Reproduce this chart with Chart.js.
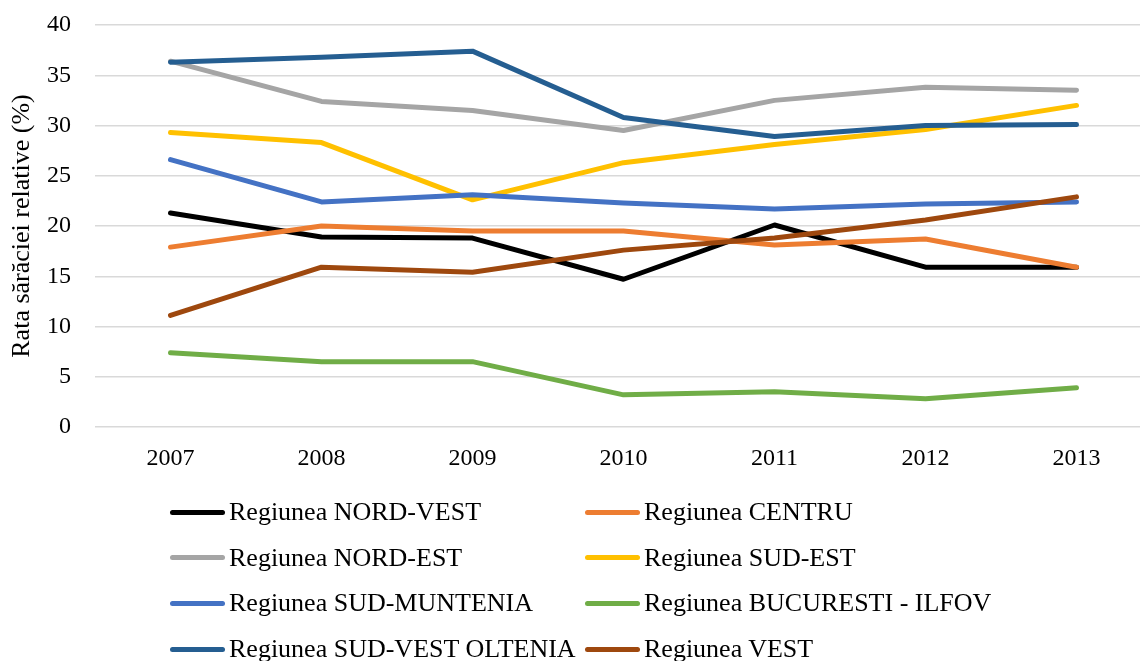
<!DOCTYPE html>
<html>
<head>
<meta charset="utf-8">
<script src="https://cdn.jsdelivr.net/npm/chart.js@4"></script>
<style>
  html, body { margin: 0; padding: 0; background: #fff; }
  body { width: 1140px; height: 661px; overflow: hidden; position: relative; }
  #wrap { position: absolute; left: 0; top: 0; width: 1152px; height: 480px; }
  #legend { position: absolute; left: 0; top: 0; width: 1140px; height: 661px; pointer-events: none; }
  .item { position: absolute; height: 40px; display: flex; align-items: center; }
  .sw { width: 55px; height: 5px; border-radius: 3px; margin-right: 4px; }
  .lbl { font-family: "Liberation Serif", "DejaVu Serif", serif; font-size: 26px; color: #000; white-space: nowrap; }
</style>
</head>
<body>
<div id="wrap"><canvas id="c" width="1152" height="480"></canvas></div>
<div id="legend"></div>
<script>
const years = ['2007', '2008', '2009', '2010', '2011', '2012', '2013'];
const seriesNames = [
  'Regiunea NORD-VEST', 'Regiunea CENTRU', 'Regiunea NORD-EST', 'Regiunea SUD-EST',
  'Regiunea SUD-MUNTENIA', 'Regiunea BUCURESTI - ILFOV', 'Regiunea SUD-VEST OLTENIA', 'Regiunea VEST'
];
const nordVest    = [21.3, 18.9, 18.8, 14.7, 20.1, 15.9, 15.9];
const centru      = [17.9, 20.0, 19.5, 19.5, 18.1, 18.7, 15.9];
const nordEst     = [36.4, 32.4, 31.5, 29.5, 32.5, 33.8, 33.5];
const sudEst      = [29.3, 28.3, 22.6, 26.3, 28.1, 29.6, 32.0];
const sudMuntenia = [26.6, 22.4, 23.1, 22.3, 21.7, 22.2, 22.4];
const bucuresti   = [7.4, 6.5, 6.5, 3.2, 3.5, 2.8, 3.9];
const sudVest     = [36.3, 36.8, 37.4, 30.8, 28.9, 30.0, 30.1];
const vest        = [11.1, 15.9, 15.4, 17.6, 18.8, 20.6, 22.9];
const yTicks = [0, 5, 10, 15, 20, 25, 30, 35, 40];
const yTitle = 'Rata sărăciei relative (%)';

const seriesValues = [nordVest, centru, nordEst, sudEst, sudMuntenia, bucuresti, sudVest, vest];
const colors = ['#000000', '#ED7D31', '#A5A5A5', '#FFC000', '#4472C4', '#70AD47', '#255E91', '#9E480E'];

const FONT = '"Liberation Serif", "DejaVu Serif", serif';

const datasets = seriesValues.map((vals, i) => ({
  label: seriesNames[i],
  data: vals,
  borderColor: colors[i],
  backgroundColor: colors[i],
  borderWidth: 5,
  borderCapStyle: 'round',
  borderJoinStyle: 'round',
  pointRadius: 0,
  pointHoverRadius: 0,
  tension: 0,
  fill: false,
  order: seriesValues.length - i
}));

new Chart(document.getElementById('c'), {
  type: 'line',
  data: { labels: years, datasets },
  options: {
    responsive: false,
    animation: false,
    events: [],
    layout: { padding: { top: 25, right: 0, bottom: 0, left: 0 } },
    plugins: { legend: { display: false }, tooltip: { enabled: false } },
    scales: {
      x: {
        offset: true,
        grid: { display: false, drawTicks: false },
        border: { display: false },
        ticks: { color: '#000', font: { family: FONT, size: 24 }, padding: 17, maxRotation: 0 },
        afterFit: (s) => { s.height = 480 - 427; }
      },
      y: {
        min: 0, max: 40,
        afterBuildTicks: (s) => { s.ticks = yTicks.map(v => ({ value: v })); },
        grid: { color: '#D9D9D9', lineWidth: 1.5, drawTicks: false },
        border: { display: false },
        ticks: { color: '#000', font: { family: FONT, size: 24 }, padding: 24 },
        title: { display: true, text: yTitle, color: '#000', font: { family: FONT, size: 26 }, padding: { top: 7, bottom: 0 } },
        afterFit: (s) => { s.width = 95; s.paddingTop = 0; s.paddingBottom = 0; }
      }
    }
  }
});

// Legend built from the same series arrays
const legend = document.getElementById('legend');
const rowY = [512, 557.5, 603, 649];
const colX = [170, 585];
seriesNames.forEach((name, i) => {
  const row = Math.floor(i / 2), col = i % 2;
  const d = document.createElement('div');
  d.className = 'item';
  d.style.left = colX[col] + 'px';
  d.style.top = (rowY[row] - 20) + 'px';
  const sw = document.createElement('div');
  sw.className = 'sw';
  sw.style.background = colors[i];
  const t = document.createElement('span');
  t.className = 'lbl';
  t.textContent = name;
  d.appendChild(sw);
  d.appendChild(t);
  legend.appendChild(d);
});
</script>
</body>
</html>
